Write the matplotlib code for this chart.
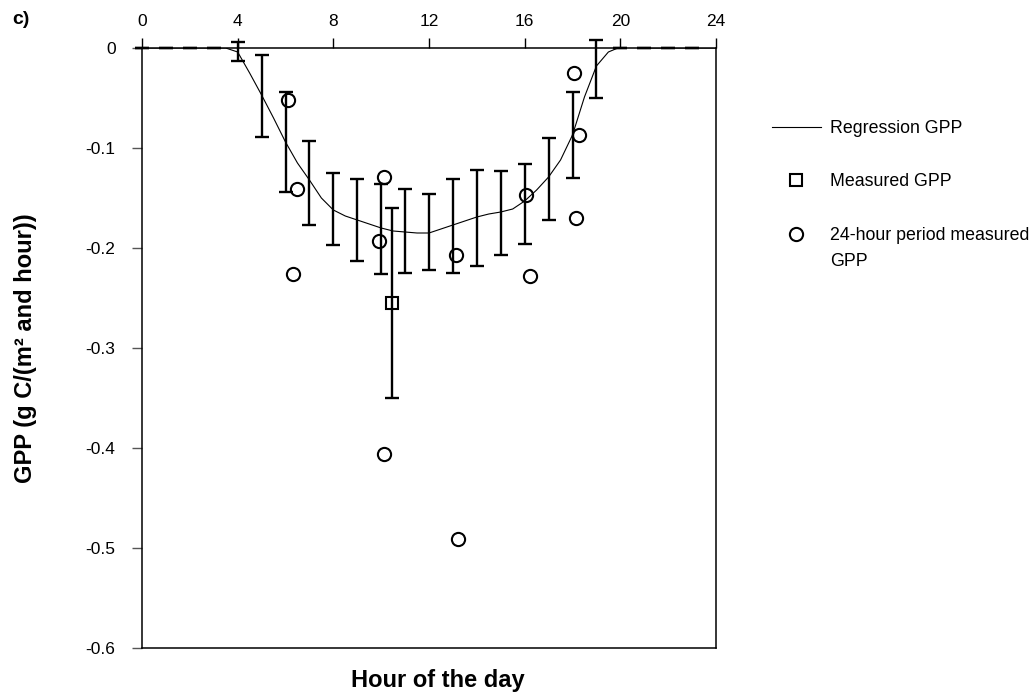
import matplotlib
matplotlib.use("Agg")
import matplotlib.pyplot as plt
from matplotlib.ticker import FixedLocator, FuncFormatter

plt.rcParams['font.family'] = ['Liberation Sans', 'DejaVu Sans']
plt.rcParams['axes.unicode_minus'] = False

# ---- data ----
hours = [0, 1, 2, 3, 4, 5, 6, 7, 8, 9, 10, 11, 12, 13, 14, 15, 16, 17, 18, 19, 20, 21, 22, 23]
hourly_mean = [0, 0, 0, 0, -0.0035, -0.048, -0.094, -0.135, -0.161, -0.172, -0.181, -0.1825,
               -0.184, -0.178, -0.170, -0.165, -0.156, -0.131, -0.087, -0.021, 0, 0, 0, 0]
hourly_err = [0, 0, 0, 0, 0.0095, 0.041, 0.050, 0.042, 0.036, 0.041, 0.045, 0.042,
              0.038, 0.047, 0.048, 0.042, 0.040, 0.041, 0.043, 0.029, 0, 0, 0, 0]

reg_hours = [0, 1, 2, 3, 3.5, 4, 4.5, 5, 5.5, 6, 6.5, 7, 7.5, 8, 8.5, 9, 9.5, 10, 10.5, 11,
             11.5, 12, 12.5, 13, 13.5, 14, 14.5, 15, 15.5, 16, 16.5, 17, 17.5, 18, 18.5,
             19, 19.5, 20, 20.5, 21, 22, 23, 24]
reg_gpp = [0, 0, 0, 0, 0, -0.004, -0.025, -0.047, -0.070, -0.094, -0.115, -0.132, -0.150,
           -0.162, -0.168, -0.172, -0.176, -0.180, -0.183, -0.184, -0.185, -0.185, -0.181,
           -0.177, -0.173, -0.169, -0.166, -0.164, -0.161, -0.153, -0.142, -0.129, -0.112,
           -0.087, -0.049, -0.018, -0.004, 0.001, 0.002, 0, 0, 0, 0]

measured_hour = [10.46]
measured_gpp = [-0.255]
measured_err = [0.095]

day_hours = [6.11, 6.32, 6.48, 9.93, 10.10, 10.10, 13.13, 13.23, 16.05, 16.24, 18.07, 18.14, 18.28]
day_gpp = [-0.052, -0.226, -0.141, -0.193, -0.129, -0.406, -0.207, -0.491, -0.147, -0.228,
           -0.025, -0.170, -0.087]

x_ticks = [0, 4, 8, 12, 16, 20, 24]
y_ticks = [0, -0.1, -0.2, -0.3, -0.4, -0.5, -0.6]

# ---- figure ----
W, H = 1035, 693
fig = plt.figure(figsize=(W / 100, H / 100), dpi=100)
ax = fig.add_axes([142 / W, 1 - 648 / H, (716 - 142) / W, (648 - 48) / H])

ax.errorbar(hours, hourly_mean, yerr=hourly_err, fmt='none', ecolor='black',
            elinewidth=1.7, capsize=5.3, capthick=1.7, clip_on=False, zorder=3)
reg_line, = ax.plot(reg_hours, reg_gpp, color='black', lw=0.8, zorder=4,
                    label='Regression GPP')
ax.errorbar(measured_hour, measured_gpp, yerr=measured_err, fmt='none', ecolor='black',
            elinewidth=1.7, capsize=5.3, capthick=1.7, zorder=3)
sq, = ax.plot(measured_hour, measured_gpp, ls='none', marker='s', ms=9,
              mfc='none', mec='black', mew=1.5, zorder=5, label='Measured GPP')
circ, = ax.plot(day_hours, day_gpp, ls='none', marker='o', ms=9.5,
                mfc='none', mec='black', mew=1.5, zorder=5,
                label='24-hour period measured')

ax.set_xlim(0, 24)
ax.set_ylim(-0.6, 0)

ax.xaxis.set_major_locator(FixedLocator(x_ticks))
ax.yaxis.set_major_locator(FixedLocator(y_ticks))
ax.yaxis.set_major_formatter(FuncFormatter(lambda v, _: '0' if abs(v) < 1e-9 else f'{v:.1f}'))
ax.tick_params(axis='x', which='both', bottom=False, labelbottom=False, top=True,
               labeltop=True, direction='out', length=7, width=1, pad=7, labelsize=12.5)
ax.tick_params(axis='y', left=True, right=False, direction='out', length=7, width=1,
               pad=12, labelsize=12.5, color='#555555')
for s in ax.spines.values():
    s.set_linewidth(1.1)
    s.set_color('black')

ax.set_xlabel('Hour of the day', fontsize=17, fontweight='bold')
ax.set_ylabel('GPP (g C/(m² and hour))', fontsize=17, fontweight='bold')
ax.yaxis.set_label_coords(-0.183, 0.5)
ax.xaxis.set_label_coords(0.515, -0.035)

fig.text(12 / W, 1 - 20 / H, 'c)', fontsize=14, fontweight='bold', va='center', ha='left')

fs_leg = 12.8
leg = ax.legend(handles=[reg_line, sq, circ], loc='upper left',
                bbox_to_anchor=(772 / W, 1 - 120 / H), bbox_transform=fig.transFigure,
                frameon=False, borderpad=0, borderaxespad=0, fontsize=fs_leg,
                handlelength=2.75, handletextpad=0.5, labelspacing=2.05)

fig.canvas.draw()
t3 = leg.get_texts()[2]
bb = t3.get_window_extent()
inv = fig.transFigure.inverted()
x0, yc = inv.transform((bb.x0, (bb.y0 + bb.y1) / 2))
fig.text(x0, yc - 26 / H, 'GPP', fontsize=fs_leg, ha='left', va='center')

fig.savefig('out.png', dpi=100)
